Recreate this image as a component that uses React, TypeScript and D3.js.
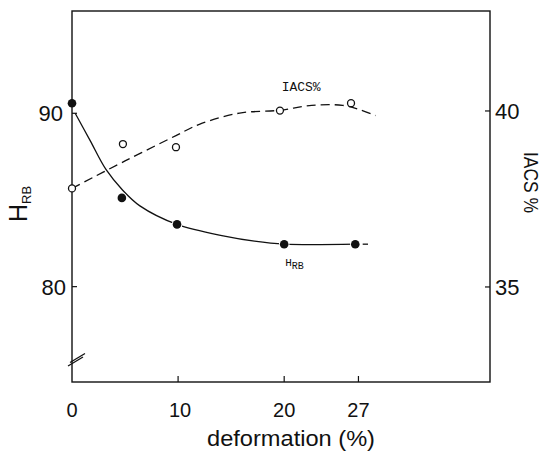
import React from 'react';
import * as d3 from 'd3';

// ---- data ----
const xTickLabels = [0, 10, 20, 27];
const xTicks = [10, 20, 27];
const hrbTicks = [80, 90];
const iacsTicks = [35, 40];

const hrbDeformation = [0, 4.7, 9.9, 20.0, 26.7];
const hrbValues = [90.58, 85.12, 83.59, 82.45, 82.45];
const iacsDeformation = [0, 4.8, 9.8, 19.6, 26.3];
const iacsValues = [37.8, 39.06, 38.97, 40.01, 40.22];

// hand-drawn trend curves
const hrbFitDeformation = [0.3, 1.7, 3.2, 4.8, 6.4, 9.9, 14.5, 17.2, 20.0, 26.7];
const hrbFitValues = [90.0, 88.44, 86.76, 85.55, 84.66, 83.59, 82.9, 82.62, 82.45, 82.45];
const hrbTailDeformation = [27.4, 27.9];
const hrbTailValues = [82.45, 82.45];
const iacsFitDeformation = [0, 5.0, 9.8, 12.0, 15.8, 19.6, 22.6, 25.5, 27.1, 28.6];
const iacsFitValues = [37.8, 38.58, 39.3, 39.62, 39.94, 40.02, 40.16, 40.16, 40.04, 39.87];

export default function App() {
  const W = 543, H = 452;
  const x = d3.scaleLinear().domain([0, 39.4]).range([72, 490]);
  const yL = d3.scaleLinear().domain([74.5, 95.9]).range([382, 11]);
  const yR = d3.scaleLinear().domain([32.3, 42.84]).range([382, 11]);

  const zip = (xs: number[], ys: number[]) => xs.map((v, i) => [v, ys[i]] as [number, number]);

  const lineL = d3.line<[number, number]>().x(d => x(d[0])).y(d => yL(d[1])).curve(d3.curveCatmullRom.alpha(0.5));
  const lineR = d3.line<[number, number]>().x(d => x(d[0])).y(d => yR(d[1])).curve(d3.curveCatmullRom.alpha(0.5));

  const [x0, x1] = x.range();
  const [yb, yt] = yL.range();
  const ink = '#111';
  const sans = '"Liberation Sans", Arial, sans-serif';
  const mono = '"Liberation Mono", "DejaVu Sans Mono", monospace';

  return (
    <svg width={W} height={H} viewBox={`0 0 ${W} ${H}`}
      style={{ position: 'absolute', left: 0, top: 0, background: '#fff' }}>
      <rect x={0} y={0} width={W} height={H} fill="#fff" />
      {/* frame */}
      <rect x={x0} y={yt} width={x1 - x0} height={yb - yt} fill="none" stroke={ink} strokeWidth={1.4} />
      {/* axis break */}
      <line x1={68} y1={366} x2={83} y2={357} stroke={ink} strokeWidth={1.3} />
      <line x1={70} y1={362.5} x2={85} y2={353.5} stroke={ink} strokeWidth={1.3} />

      {/* ticks */}
      {hrbTicks.map(t => (
        <line key={'l' + t} x1={x0} x2={x0 + 5} y1={yL(t)} y2={yL(t)} stroke={ink} strokeWidth={1.2} />
      ))}
      {iacsTicks.map(t => (
        <line key={'r' + t} x1={x1 - 5} x2={x1} y1={yR(t)} y2={yR(t)} stroke={ink} strokeWidth={1.2} />
      ))}
      {xTicks.map(t => (
        <line key={'x' + t} x1={x(t)} x2={x(t)} y1={yb} y2={yb - 6} stroke={ink} strokeWidth={1.2} />
      ))}

      {/* tick labels */}
      {hrbTicks.map((t, i) => (
        <text key={'lt' + t} x={i === 0 ? 66 : 63} y={yL(t) + 8} textAnchor="end"
          fontFamily={sans} fontSize={22} fill={ink}>{t}</text>
      ))}
      {iacsTicks.map(t => (
        <text key={'rt' + t} x={x1 + 5} y={yR(t) + 8} textAnchor="start"
          fontFamily={sans} fontSize={22} fill={ink}>{t}</text>
      ))}
      {xTickLabels.map(t => (
        <text key={'xt' + t} x={x(t) + (t === 10 ? 2 : 0)} y={417} textAnchor="middle"
          fontFamily={sans} fontSize={20} fill={ink}>{t}</text>
      ))}

      {/* axis titles */}
      <text x={291} y={446} textAnchor="middle" fontFamily={sans} fontSize={22} fill={ink}
        textLength={168} lengthAdjust="spacingAndGlyphs">deformation (%)</text>
      <text transform="translate(27,222) rotate(-90)" fontFamily={sans} fontSize={25} fill={ink}>
        H<tspan fontSize={13} dy={4}>RB</tspan>
      </text>
      <text transform="translate(524,152) rotate(90)" fontFamily={sans} fontSize={20} fill={ink}
        textLength={61} lengthAdjust="spacingAndGlyphs">IACS %</text>

      {/* curves */}
      <path d={lineL(zip(hrbFitDeformation, hrbFitValues)) || ''} fill="none" stroke={ink} strokeWidth={1.3} />
      <path d={lineL(zip(hrbTailDeformation, hrbTailValues)) || ''} fill="none" stroke={ink} strokeWidth={1.3} />
      <path d={lineR(zip(iacsFitDeformation, iacsFitValues)) || ''} fill="none" stroke={ink}
        strokeWidth={1.3} strokeDasharray="9,5" />

      {/* points */}
      {hrbDeformation.map((d, i) => (
        <circle key={'h' + i} cx={x(d)} cy={yL(hrbValues[i])} r={4.3} fill={ink}
          stroke={i === 0 ? 'none' : '#fff'} strokeWidth={2} paintOrder="stroke" />
      ))}
      {iacsDeformation.map((d, i) => (
        <circle key={'c' + i} cx={x(d)} cy={yR(iacsValues[i])} r={3.5} fill="#fff"
          stroke={ink} strokeWidth={1.3} />
      ))}

      {/* inline labels */}
      <text x={x(21.6)} y={yR(40.68) + 4} textAnchor="middle" fontFamily={mono} fontSize={13}
        fill={ink}>IACS%</text>
      <text x={x(20.1)} y={yL(81.2)} fontFamily={mono} fontSize={11} fill={ink}>
        H<tspan fontSize={10} dy={3}>RB</tspan>
      </text>
    </svg>
  );
}
